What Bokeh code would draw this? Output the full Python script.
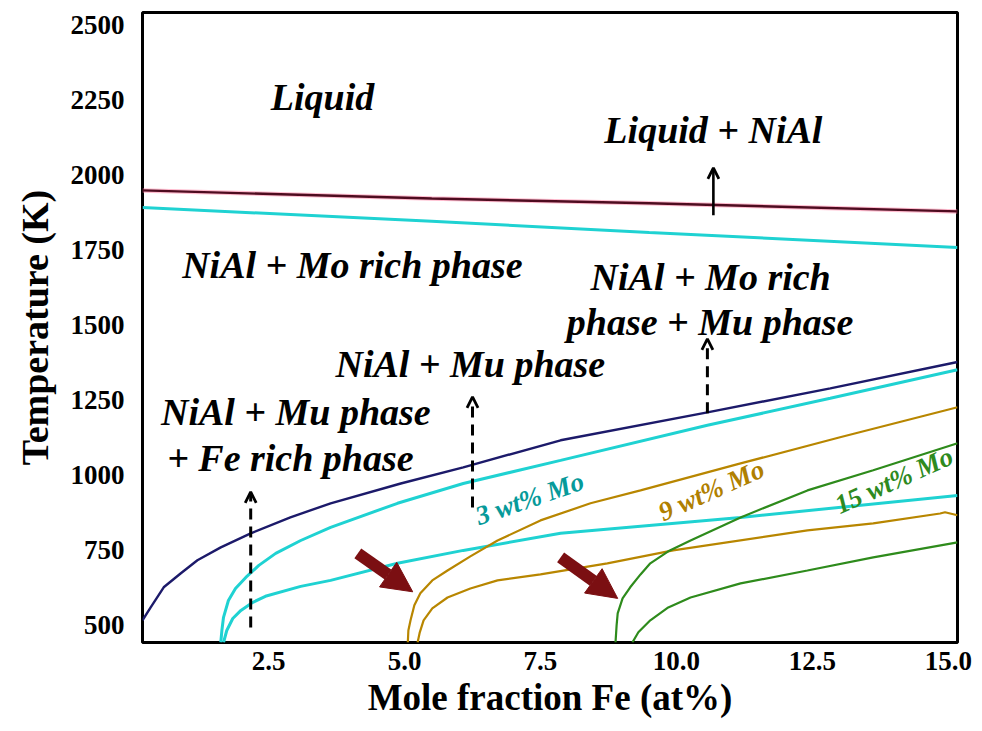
from bokeh.plotting import figure
from bokeh.models import (Arrow, OpenHead, NormalHead, FixedTicker, Label, Range1d)
from bokeh.embed import file_html
from bokeh.resources import INLINE

# ---------------- data ----------------
x_ticks = [2.5, 5.0, 7.5, 10.0, 12.5, 15.0]
x_tick_labels = ["2.5", "5.0", "7.5", "10.0", "12.5", "15.0"]
y_ticks = [500, 750, 1000, 1250, 1500, 1750, 2000, 2250, 2500]
y_tick_labels = ["500", "750", "1000", "1250", "1500", "1750", "2000", "2250", "2500"]

liq_x = [0.18, 5.5, 9.5, 15.17]
liq_T = [1950, 1923, 1907, 1880]

mo3_liq_x = [0.18, 5.5, 9.5, 15.17]
mo3_liq_T = [1893, 1847, 1810, 1760]

sol_x = [0.18, 0.33, 0.57, 0.88, 1.19, 1.62, 2.17, 2.90, 3.64, 4.93, 6.08, 7.87, 10.57, 12.83, 15.17]
sol_T = [517, 560, 627, 673, 717, 760, 807, 860, 907, 973, 1027, 1117, 1210, 1290, 1378]

mo3_up_x = [1.62, 1.64, 1.67, 1.76, 1.89, 2.08, 2.32, 2.63, 3.09, 3.64, 4.87, 6.08, 7.87, 10.57, 12.83, 15.17]
mo3_up_T = [443, 483, 527, 583, 623, 660, 700, 740, 783, 827, 907, 973, 1050, 1167, 1257, 1352]
mo3_lo_x = [1.67, 1.73, 1.84, 1.99, 2.21, 2.44, 3.09, 3.64, 4.87, 6.08, 7.87, 11.18, 15.17]
mo3_lo_T = [443, 483, 523, 550, 577, 597, 630, 650, 707, 750, 807, 860, 933]

mo9_up_x = [5.06, 5.07, 5.11, 5.18, 5.29, 5.51, 5.79, 6.21, 6.71, 7.5, 8.42, 9.34, 11.18, 13.01, 15.17]
mo9_up_T = [443, 483, 517, 567, 607, 650, 683, 730, 783, 850, 907, 950, 1040, 1127, 1227]
mo9_lo_x = [5.24, 5.28, 5.35, 5.51, 5.79, 6.21, 6.71, 7.5, 8.73, 9.94, 12.41, 13.62, 14.85, 14.94, 15.17]
mo9_lo_T = [443, 477, 517, 557, 593, 623, 650, 670, 707, 750, 817, 840, 873, 877, 867]

mo15_up_x = [8.88, 8.90, 8.92, 9.01, 9.15, 9.34, 9.52, 9.85, 10.26, 11.18, 12.41, 13.62, 15.17]
mo15_up_T = [443, 500, 540, 590, 627, 670, 707, 747, 783, 860, 950, 1017, 1107]
mo15_lo_x = [9.19, 9.30, 9.52, 9.85, 10.26, 11.18, 12.41, 13.62, 15.17]
mo15_lo_T = [443, 477, 517, 560, 593, 640, 683, 727, 777]

phase_labels = ["Liquid", "Liquid + NiAl", "NiAl + Mo rich phase", "NiAl + Mo rich",
                "phase + Mu phase", "NiAl + Mu phase", "NiAl + Mu phase", "+ Fe rich phase"]
phase_x = [3.49, 10.68, 4.04, 10.63, 10.62, 6.21, 3.0, 2.9]
phase_T = [2260, 2150, 1700, 1660, 1510, 1370, 1210, 1057]

mo_labels = ["3 wt% Mo", "9 wt% Mo", "15 wt% Mo"]
mo_x = [7.30, 10.64, 14.0]
mo_T = [923, 950, 983]
mo_angle = [19, 24, 24]
mo_colors = ["#079a9a", "#b08000", "#2e8a1e"]

# ---------------- figure ----------------
p = figure(width=982, height=731, output_backend="svg", toolbar_location=None,
           x_range=Range1d(0.18, 15.17), y_range=Range1d(443, 2543),
           min_border_left=142, min_border_top=12, min_border_right=25,
           min_border_bottom=89)
p.background_fill_color = "white"
p.border_fill_color = "white"
p.outline_line_color = "black"
p.outline_line_width = 3
p.xgrid.visible = False
p.ygrid.visible = False

serif = "Liberation Serif"
for ax in (p.xaxis[0], p.yaxis[0]):
    ax.axis_line_color = None
    ax.major_tick_line_color = None
    ax.minor_tick_line_color = None
    ax.major_tick_out = 0
    ax.major_tick_in = 0
    ax.major_label_text_font = serif
    ax.major_label_text_font_style = "bold"
    ax.major_label_text_font_size = "27px"
    ax.major_label_text_color = "black"
    ax.axis_label_text_font = serif
    ax.axis_label_text_font_style = "bold"
    ax.axis_label_text_color = "black"

p.xaxis.axis_label_text_font_size = "37px"
p.yaxis.axis_label_text_font_size = "38px"
p.xaxis.ticker = FixedTicker(ticks=x_ticks)
p.xaxis.major_label_overrides = dict(zip(x_ticks, x_tick_labels))
p.yaxis.ticker = FixedTicker(ticks=y_ticks)
p.yaxis.major_label_overrides = dict(zip(y_ticks, y_tick_labels))
p.xaxis.major_label_standoff = 9
p.yaxis.major_label_standoff = 18
p.xaxis.axis_label = "Mole fraction Fe (at%)"
p.yaxis.axis_label = "Temperature (K)"
p.xaxis.axis_label_standoff = 4
p.yaxis.axis_label_standoff = 12

# ---------------- curves ----------------
p.line(liq_x, liq_T, line_color="#ff7aa0", line_width=4.5, line_alpha=0.5)
p.line(liq_x, liq_T, line_color="#4e0c20", line_width=2.4)
p.line(mo3_liq_x, mo3_liq_T, line_color="#1fd2d2", line_width=3)
p.line(sol_x, sol_T, line_color="#1c1a6a", line_width=2.4)
p.line(mo3_up_x, mo3_up_T, line_color="#1fd2d2", line_width=3)
p.line(mo3_lo_x, mo3_lo_T, line_color="#1fd2d2", line_width=3)
p.line(mo9_up_x, mo9_up_T, line_color="#b88600", line_width=2.2)
p.line(mo9_lo_x, mo9_lo_T, line_color="#b88600", line_width=2.2)
p.line(mo15_up_x, mo15_up_T, line_color="#2e8b1c", line_width=2.2)
p.line(mo15_lo_x, mo15_lo_T, line_color="#2e8b1c", line_width=2.2)

# ---------------- arrows ----------------
p.add_layout(Arrow(end=OpenHead(size=11, line_width=2.8, line_color="black"),
                   x_start=10.68, y_start=1867, x_end=10.68, y_end=2025,
                   line_width=2.6, line_color="black"))
for xs, ys, ye in [(2.17, 493, 945), (6.25, 893, 1262), (10.57, 1207, 1455)]:
    p.add_layout(Arrow(end=OpenHead(size=11, line_width=2.8, line_color="black"),
                       x_start=xs, y_start=ys, x_end=xs, y_end=ye,
                       line_width=3, line_color="black", line_dash="11 7"))
red = "#7b0f12"
for x0, y0, x1, y1 in [(4.14, 740, 5.15, 612), (7.87, 727, 8.92, 590)]:
    p.add_layout(Arrow(end=NormalHead(size=30, fill_color=red, line_color=red, line_width=1),
                       x_start=x0, y_start=y0, x_end=x1, y_end=y1,
                       line_width=12, line_color=red))

# ---------------- text ----------------
for t, x, y in zip(phase_labels, phase_x, phase_T):
    p.add_layout(Label(x=x, y=y, text=t, text_font=serif, text_font_style="bold italic",
                       text_font_size="38px", text_align="center",
                       text_baseline="middle", text_color="black"))
for t, x, y, a, c in zip(mo_labels, mo_x, mo_T, mo_angle, mo_colors):
    p.add_layout(Label(x=x, y=y, text=t, text_font=serif, text_font_style="bold italic",
                       text_font_size="27px", text_align="center",
                       text_baseline="middle", text_color=c, angle=a, angle_units="deg"))

open("out.html", "w").write(file_html(p, INLINE))
